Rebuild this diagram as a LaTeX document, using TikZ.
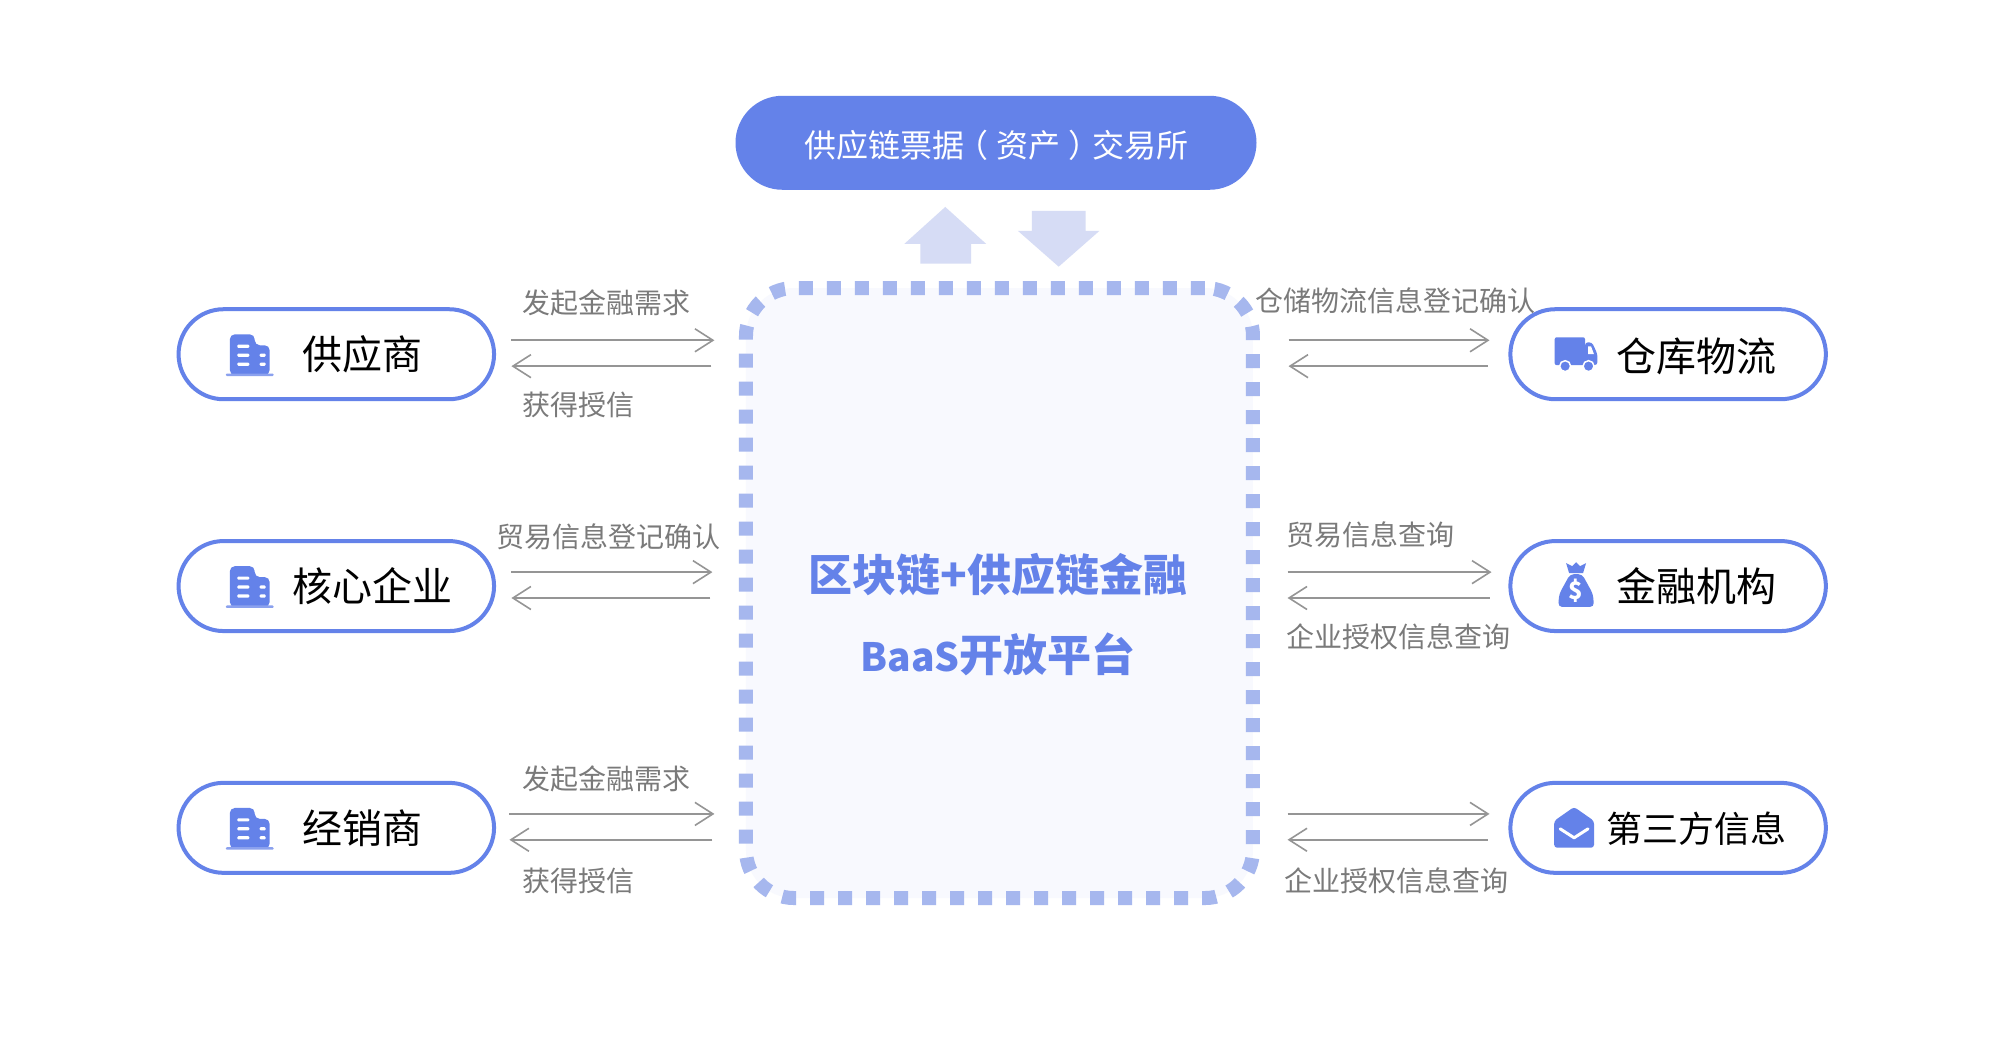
\documentclass[tikz,border=0pt]{standalone}
\usepackage{fontspec}
\setmainfont{Noto Sans CJK SC}
\usetikzlibrary{arrows.meta,shapes.misc}
\definecolor{mainblue}{HTML}{6482E9}
\definecolor{dashblue}{HTML}{A6B7EE}
\definecolor{corefill}{HTML}{F8F9FE}
\definecolor{softblue}{HTML}{D6DCF5}
\definecolor{linegray}{HTML}{959595}
\definecolor{labelgray}{HTML}{7A7A7A}
\tikzset{
  x=0.995pt,y=-0.995pt,
  pill/.style={draw=mainblue,line width=4pt,rounded rectangle,fill=white,minimum width=315.5pt,minimum height=90pt,inner sep=0pt},
  pilltext/.style={font=\fontsize{#1}{#1}\selectfont,text=black,inner sep=0pt},
  flow/.style={draw=linegray,line width=1.6pt,-{Straight Barb[length=18pt,width=23pt,line width=1.6pt]}},
  lbl/.style={font=\fontsize{28}{28}\selectfont,text=labelgray,inner sep=0pt},
  building/.pic={
    \fill[mainblue,rounded corners=5pt] (-20,20) -- (-20,-21) -- (5,-21) -- (5,-10) -- (20,-10) -- (20,20) -- cycle;
    \fill[mainblue!75!white,rounded corners=1pt] (-24,18.5) rectangle (24,21);
    \foreach \yy in {-9,0,9}{
      \fill[white,rounded corners=1pt] (-12.5,\yy-1.6) rectangle (-0.5,\yy+1.6);
    }
    \foreach \yy in {0,9}{
      \fill[white,rounded corners=1pt] (10,\yy-1.6) rectangle (16,\yy+1.6);
    }
  },
  truck/.pic={
    \fill[mainblue,rounded corners=2pt] (-21.5,-17) rectangle (9,11);
    \fill[mainblue,rounded corners=3pt] (9,-12) -- (16,-12) -- (21.5,0) -- (21.5,11) -- (9,11) -- cycle;
    \fill[white] (12,-8) -- (15,-8) -- (18,0) -- (12,0) -- cycle;
    \fill[mainblue,draw=white,line width=1.5pt] (-11,12) circle (5.5);
    \fill[mainblue,draw=white,line width=1.5pt] (12.5,12) circle (5.5);
  },
  moneybag/.pic={
    \fill[mainblue] (-10,-23) -- (-4,-20) -- (0,-24) -- (4,-20) -- (10,-23) -- (7,-13) -- (-7,-13) -- cycle;
    \fill[mainblue,rounded corners=4pt] (-6,-12) -- (6,-12) -- (17,8) -- (18,21) -- (-18,21) -- (-17,8) -- cycle;
    \node[font=\fontsize{24}{24}\bfseries\selectfont,text=white,inner sep=0pt] at (0,5) {\$};
  },
  mailopen/.pic={
    \fill[mainblue,rounded corners=3pt] (0,-21) -- (20,-7) -- (20,20) -- (-20,20) -- (-20,-7) -- cycle;
    \draw[white,line width=3pt,line cap=round,line join=round] (-14,1) -- (0,10) -- (14,1);
  }
}
\begin{document}
\begin{tikzpicture}
\useasboundingbox[fill=white] (0,0) rectangle (2010.05,1045.23);

% central platform
\node[draw=dashblue,fill=corefill,line width=14pt,dash pattern=on 14pt off 14pt,rounded corners=48pt,minimum width=507pt,minimum height=610pt,inner sep=0pt] (core) at (1004.5,596) {};
\node[font=\fontsize{44}{44}\bfseries\selectfont,text=mainblue,inner sep=0pt] (coreA) at (1003,578) {区块链+供应链金融};
\node[font=\fontsize{44}{44}\bfseries\selectfont,text=mainblue,inner sep=0pt] (coreB) at (1003,658) {{\fontsize{39}{44}\selectfont BaaS}开放平台};

% exchange
\node[fill=mainblue,rounded rectangle,minimum width=521pt,minimum height=94pt,inner sep=0pt] (exchange) at (1001,143.5) {};
\node[font=\fontsize{32}{32}\selectfont,text=white,inner sep=0pt] (exchangeT) at (1001.5,146) {供应链票据\kern-8pt（\kern8pt资产\kern8pt）\kern-8pt交易所};
\fill[softblue] (950,208) -- (991,245) -- (976,245) -- (976,265) -- (925,265) -- (925,245) -- (909,245) -- cycle;
\fill[softblue] (1064,268) -- (1105,232) -- (1091,232) -- (1091,212) -- (1037,212) -- (1037,232) -- (1023,232) -- cycle;

% pills
\node[pill] (sup) at (338,356) {};
\node[pill] (cor) at (338,589) {};
\node[pill] (dis) at (338,832) {};
\node[pill] (wh)  at (1676.5,356) {};
\node[pill] (fin) at (1676.5,589) {};
\node[pill] (thd) at (1676.5,832) {};

\node[pilltext=40] (supT) at (364,356) {供应商};
\node[pilltext=40] (corT) at (374,589) {核心企业};
\node[pilltext=40] (disT) at (364,832) {经销商};
\node[pilltext=40] (whT)  at (1705,358) {仓库物流};
\node[pilltext=40] (finT) at (1705,589) {金融机构};
\node[pilltext=36] (thdT) at (1705,833) {第三方信息};

\pic at (251,357) {building};
\pic at (251,590) {building};
\pic at (251,833) {building};
\pic at (1584,356) {truck};
\pic at (1584,589) {moneybag};
\pic at (1582,832) {mailopen};

% labels
\node[lbl] (l1) at (610,304) {发起金融需求};
\node[lbl] (l2) at (581,407) {获得授信};
\node[lbl] (l3) at (612,539) {贸易信息登记确认};
\node[lbl] (l4) at (610,783) {发起金融需求};
\node[lbl] (l5) at (581,885) {获得授信};
\node[lbl] (r1) at (1402,302) {仓储物流信息登记确认};
\node[lbl] (r2) at (1377,537) {贸易信息查询};
\node[lbl] (r3) at (1406,640) {企业授权信息查询};
\node[lbl] (r4) at (1403,885) {企业授权信息查询};

% arrow ends
\coordinate (a1s) at (514,342); \coordinate (a1e) at (718,342);
\coordinate (a2s) at (715,368); \coordinate (a2e) at (514,368);
\coordinate (a3s) at (514,575); \coordinate (a3e) at (716,575);
\coordinate (a4s) at (714,601); \coordinate (a4e) at (514,601);
\coordinate (a5s) at (512,818); \coordinate (a5e) at (718,818);
\coordinate (a6s) at (716,844); \coordinate (a6e) at (512,844);
\coordinate (b1s) at (1295,342); \coordinate (b1e) at (1497,342);
\coordinate (b2s) at (1495,368); \coordinate (b2e) at (1295,368);
\coordinate (b3s) at (1294,575); \coordinate (b3e) at (1499,575);
\coordinate (b4s) at (1497,601); \coordinate (b4e) at (1294,601);
\coordinate (b5s) at (1294,818); \coordinate (b5e) at (1497,818);
\coordinate (b6s) at (1495,844); \coordinate (b6e) at (1294,844);
\foreach \n in {a1,a2,a3,a4,a5,a6,b1,b2,b3,b4,b5,b6}{
  \draw[flow] (\n s) -- (\n e);
}
\end{tikzpicture}
\end{document}
